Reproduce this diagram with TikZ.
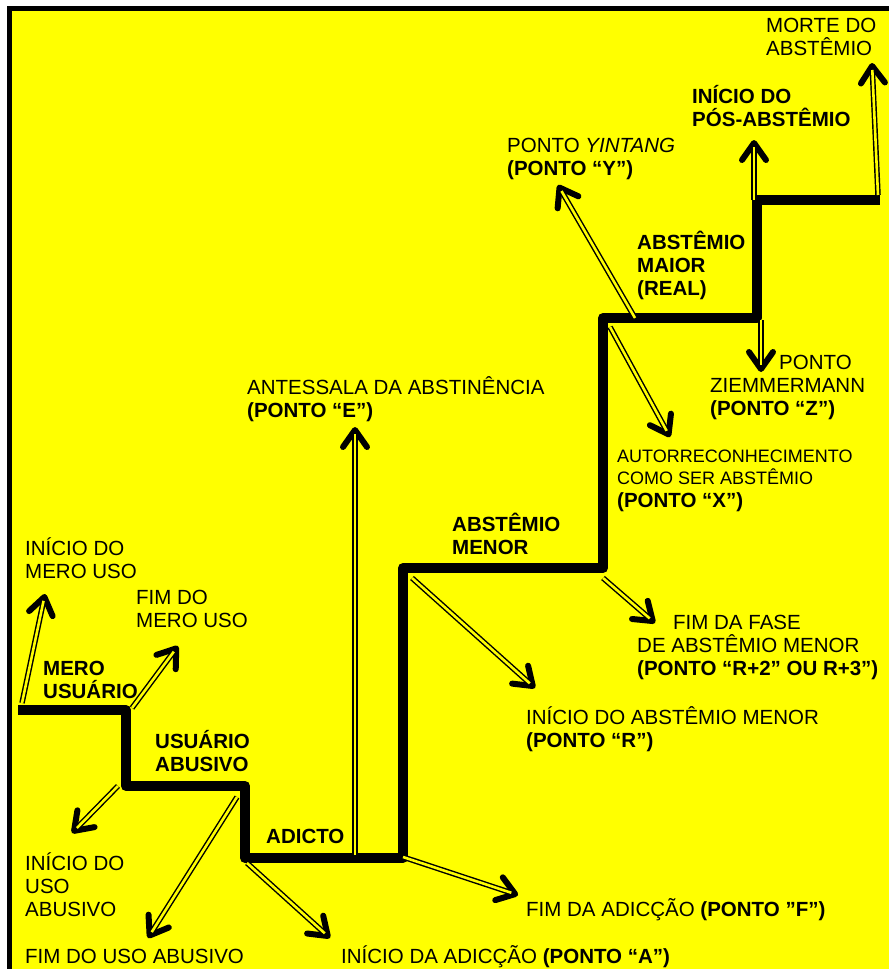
\documentclass[tikz,border=0pt]{standalone}
\usepackage{fontspec}
\setmainfont{Liberation Sans}
\usetikzlibrary{arrows.meta}
\definecolor{amarelo}{RGB}{255,255,0}
\tikzset{
  escada/.style={line width=10pt, line join=round},
  seta/.style={line width=5.5pt, -{Straight Barb[length=17pt,width=24pt,line width=6pt 0,round]},
    postaction={draw=amarelo, line width=2.6pt, shorten >=7pt, -}},
  rot/.style={anchor=base west, inner sep=0pt, align=left, font=\fontsize{20.5}{23}\selectfont},
  rotb/.style={rot, font=\fontsize{20.5}{23}\selectfont\bfseries},
}
\newcommand{\seta}[2]{\draw[seta] (#1) -- (#2);}

\begin{document}
\begin{tikzpicture}[x=1pt,y=-1pt]
    \useasboundingbox (0,0) rectangle (889,969);
    \fill[white] (0,0) rectangle (889,969);
    \fill[amarelo] (10,8.5) rectangle (889,969);
    \draw[line width=5.5pt] (9.5,969) -- (9.5,8.5) -- (889,8.5);

    % degraus
    \coordinate (s0) at (18,710);  \coordinate (s1) at (126,710);
    \coordinate (s2) at (126,786); \coordinate (s3) at (245,786);
    \coordinate (s4) at (245,858); \coordinate (s5) at (403,858);
    \coordinate (s6) at (403,568); \coordinate (s7) at (603,568);
    \coordinate (s8) at (603,318); \coordinate (s9) at (757,318);
    \coordinate (s10) at (757,200); \coordinate (s11) at (880,200);
    \draw[escada] (s0) -- (s1) -- (s2) -- (s3) -- (s4) -- (s5) -- (s6)
        -- (s7) -- (s8) -- (s9) -- (s10) -- (s11);

    % pontas das setas
    \coordinate (imu0) at (22,703);  \coordinate (imu) at (45,594);
    \coordinate (fmu0) at (132,708); \coordinate (fmu) at (178,646);
    \coordinate (iua0) at (118,786); \coordinate (iua) at (72,833);
    \coordinate (fua0) at (237,797); \coordinate (fua) at (148,938);
    \coordinate (pA0) at (247,863);  \coordinate (pA) at (330,938);
    \coordinate (pF0) at (403,857);  \coordinate (pF) at (518,895);
    \coordinate (pE0) at (355,855);  \coordinate (pE) at (355,427);
    \coordinate (pR0) at (412,578);  \coordinate (pR) at (535,688);
    \coordinate (pR2a) at (603,578); \coordinate (pR2) at (655,623);
    \coordinate (pX0) at (610,327);  \coordinate (pX) at (670,437);
    \coordinate (pZ0) at (761,320);  \coordinate (pZ) at (761,372);
    \coordinate (pY0) at (635,318);  \coordinate (pY) at (558,185);
    \coordinate (ipa0) at (754,200); \coordinate (ipa) at (754,140);
    \coordinate (mab0) at (878,195); \coordinate (mab) at (872,63);

    \seta{imu0}{imu} \seta{fmu0}{fmu}
    \seta{iua0}{iua} \seta{fua0}{fua}
    \seta{pA0}{pA}   \seta{pF0}{pF}
    \seta{pE0}{pE}   \seta{pR0}{pR}
    \seta{pR2a}{pR2} \seta{pX0}{pX}
    \seta{pZ0}{pZ}   \seta{pY0}{pY}
    \seta{ipa0}{ipa} \seta{mab0}{mab}

    % fases
    \node[rotb] (mero) at (43,698) {MERO\\USUÁRIO};
    \node[rotb] (abusivo) at (155,771) {USUÁRIO\\ABUSIVO};
    \node[rotb] (adicto) at (266,843) {ADICTO};
    \node[rotb] (menor) at (452,554) {ABSTÊMIO\\MENOR};
    \node[rotb] (maior) at (637,295) {ABSTÊMIO\\MAIOR\\(REAL)};
    \node[rotb] (posab) at (692,126) {INÍCIO DO\\PÓS-ABSTÊMIO};

    % pontos
    \node[rot] (tIniMero) at (25,578) {INÍCIO DO\\MERO USO};
    \node[rot] (tFimMero) at (136,627) {FIM DO\\MERO USO};
    \node[rot] (tIniAbus) at (25,916) {INÍCIO DO\\USO\\ABUSIVO};
    \node[rot] (tFimAbus) at (25,963) {FIM DO USO ABUSIVO};
    \node[rot] (tA) at (341,963) {INÍCIO DA ADICÇÃO \textbf{(PONTO “A”)}};
    \node[rot] (tF) at (526,916) {FIM DA ADICÇÃO \textbf{(PONTO ”F”)}};
    \node[rot] (tE) at (247,417) {ANTESSALA DA ABSTINÊNCIA\\\textbf{(PONTO “E”)}};
    \node[rot] (tR) at (526,747) {INÍCIO DO ABSTÊMIO MENOR\\\textbf{(PONTO “R”)}};
    \node[rot] (tR2) at (637,675) {\hspace*{36pt}FIM DA FASE\\DE ABSTÊMIO MENOR\\\textbf{(PONTO “R+2” OU R+3”)}};
    \node[rot, font=\fontsize{18}{22.5}\selectfont] (tX) at (617,507)
        {AUTORRECONHECIMENTO\\COMO SER ABSTÊMIO\\\fontsize{20.5}{23}\selectfont\textbf{(PONTO “X”)}};
    \node[rot] (tZ) at (710,415) {\hspace*{69pt}PONTO\\ZIEMMERMANN\\\textbf{(PONTO “Z”)}};
    \node[rot] (tY) at (507,175) {PONTO \textit{YINTANG}\\\textbf{(PONTO “Y”)}};
    \node[rot] (tMorte) at (766,55) {MORTE DO\\ABSTÊMIO};
\end{tikzpicture}
\end{document}
